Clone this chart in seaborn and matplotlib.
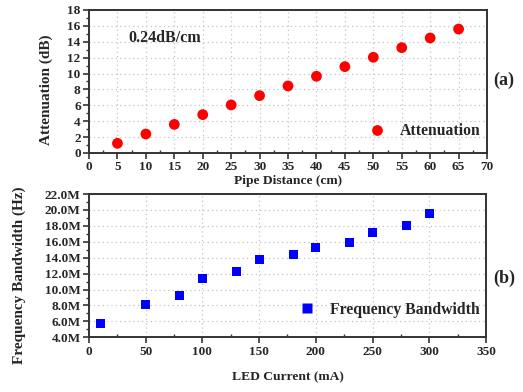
import matplotlib
matplotlib.use("Agg")
import matplotlib.pyplot as plt
import seaborn as sns
import pandas as pd
from matplotlib.ticker import MultipleLocator, FuncFormatter

# Data
pipe_distance_cm = [5, 10, 15, 20, 25, 30, 35, 40, 45, 50, 55, 60, 65]
attenuation_db = [1.22, 2.39, 3.6, 4.83, 6.05, 7.22, 8.44, 9.66, 10.87, 12.05, 13.26, 14.48, 15.6]

led_current_ma = [10, 50, 80, 100, 130, 150, 180, 200, 230, 250, 280, 300]
bandwidth_mhz = [5.71, 8.1, 9.29, 11.43, 12.26, 13.82, 14.45, 15.33, 15.96, 17.13, 18.06, 19.53]

df_a = pd.DataFrame({"x": pipe_distance_cm, "y": attenuation_db, "s": "Attenuation"})
df_b = pd.DataFrame({"x": led_current_ma, "y": [v * 1e6 for v in bandwidth_mhz], "s": "Frequency Bandwidth"})

sns.set_theme(style="white")
plt.rcParams["font.family"] = ["Liberation Serif", "DejaVu Serif"]
plt.rcParams["font.weight"] = "bold"

fig = plt.figure(figsize=(5.23, 3.92), dpi=100)
ax1 = fig.add_axes([0.1702, 0.6097, 0.761, 0.3648])
ax2 = fig.add_axes([0.1702, 0.1395, 0.759, 0.3656])

grid_kw = dict(color="#c4c4c4", linestyle=(0, (1, 2.5)), linewidth=0.9)

def style(ax):
    for sp in ax.spines.values():
        sp.set_color("#333333")
        sp.set_linewidth(1.4)
    ax.grid(True, which="major", **grid_kw)
    ax.tick_params(axis="both", which="major", direction="out", length=4, width=1.2,
                   color="#333333", labelsize=9.5, pad=2, bottom=True, left=True)
    ax.tick_params(axis="y", which="minor", direction="out", length=2.5, width=1.0,
                   color="#333333", left=True)
    ax.tick_params(axis="x", which="minor", direction="in", length=2.5, width=1.0,
                   color="#333333", bottom=True)
    for lab in ax.get_xticklabels() + ax.get_yticklabels():
        lab.set_fontweight("bold")

sns.scatterplot(data=df_a, x="x", y="y", hue="s", palette=["#ff0000"], marker="o",
                s=60, edgecolor="none", ax=ax1, zorder=3)
ax1.set_xlim(0, 70)
ax1.set_ylim(0, 18)
ax1.xaxis.set_major_locator(MultipleLocator(5))
ax1.xaxis.set_minor_locator(MultipleLocator(2.5))
ax1.yaxis.set_major_locator(MultipleLocator(2))
ax1.yaxis.set_minor_locator(MultipleLocator(1))
ax1.set_xlabel("Pipe Distance (cm)", fontsize=9.7, fontweight="bold", labelpad=1)
ax1.set_ylabel("Attenuation (dB)", fontsize=11, fontweight="bold")
ax1.yaxis.set_label_coords(-0.09, 0.444)
style(ax1)
ax1.legend(loc="lower right", bbox_to_anchor=(1.02, -0.003), frameon=False,
           prop={"size": 11.3, "weight": "bold"}, handletextpad=0.45)
ax1.text(0.1, 0.804, "0.24dB/cm", transform=ax1.transAxes, fontsize=11.5,
         fontweight="bold", va="center")
fig.text(0.964, 0.796, "(a)", fontsize=13, fontweight="bold", ha="center", va="center")

sns.scatterplot(data=df_b, x="x", y="y", hue="s", palette=["#0000ff"], marker="s",
                s=42, edgecolor="none", ax=ax2, zorder=3)
ax2.set_xlim(0, 350)
ax2.set_ylim(4e6, 22e6)
ax2.xaxis.set_major_locator(MultipleLocator(50))
ax2.xaxis.set_minor_locator(MultipleLocator(25))
ax2.yaxis.set_major_locator(MultipleLocator(2e6))
ax2.yaxis.set_minor_locator(MultipleLocator(1e6))
ax2.yaxis.set_major_formatter(FuncFormatter(lambda v, p: f"{v/1e6:.1f}M"))
ax2.set_xlabel("LED Current (mA)", fontsize=9.7, fontweight="bold", labelpad=10)
ax2.set_ylabel("Frequency Bandwidth (Hz)", fontsize=11, fontweight="bold")
ax2.yaxis.set_label_coords(-0.159, 0.434)
style(ax2)
ax2.legend(loc="lower right", bbox_to_anchor=(1.02, 0.037), frameon=False,
           prop={"size": 11.3, "weight": "bold"}, handletextpad=0.45)
fig.text(0.964, 0.291, "(b)", fontsize=13, fontweight="bold", ha="center", va="center")

fig.savefig("out.png", dpi=100)
